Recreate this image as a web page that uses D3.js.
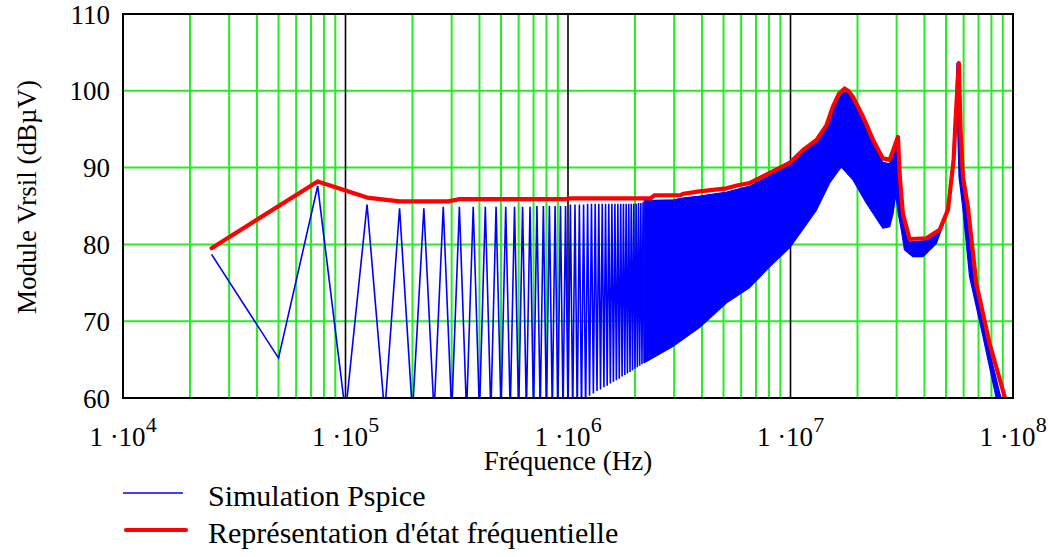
<!DOCTYPE html>
<html><head><meta charset="utf-8">
<script src="https://cdn.jsdelivr.net/npm/d3@7"></script>
<style>
body{margin:0;background:#fff;}
text{font-family:"Liberation Serif","Times New Roman",serif;fill:#000;}
</style>
</head><body>
<svg id="chart" width="1048" height="557"></svg>
<script>
// ---- data ----
// Pspice harmonics, discrete lines (kHz, dBuV)
const harmonicFreqKHz = [25,50,75,100,125,150,175,200,225,250,
  275,300,325,350,375,400,425,450,475,500,
  525,550,575,600,625,650,675,700,725,750,
  775,800,825,850,875,900,925,950,975,1000,
  1025,1050,1075,1100,1125,1150,1175,1200,1225,1250,
  1275,1300,1325,1350,1375,1400,1425,1450,1475,1500,
  1525,1550,1575,1600,1625,1650,1675,1700,1725,1750,
  1775,1800,1825,1850,1875,1900,1925,1950,1975,2000,
  2025,2050,2075,2100,2125,2150,2175,2200];
const harmonicDb = [78.7,65.2,87.6,58,85.2,58,84.7,58,84.7,58,
  84.9,58,84.9,58,84.9,58,84.9,58,84.9,58,
  84.9,58,84.9,58,84.9,58,84.9,58,85.0,58,
  85.0,58,85.0,58,85.0,58,85.0,58,85.0,58,
  85.2,58,85.2,58,85.2,58,85.2,58,85.3,60.3,
  85.3,60.6,85.3,60.9,85.3,61.1,85.3,61.4,85.3,61.6,
  85.3,61.9,85.3,62.1,85.3,62.3,85.3,62.5,85.3,62.8,
  85.3,63.0,85.3,63.2,85.3,63.4,85.3,63.6,85.3,63.8,
  85.3,64.0,85.4,64.2,85.4,64.4,85.5,64.6];
// Dense Pspice band, upper envelope (Hz, dBuV)
const bandUpperFreq = [2.2e6,3.0e6,3.2e6,3.91e6,5.16e6,6.56e6,9.9e6,1.14e7,1.31e7,1.45e7,1.55e7,1.72e7,1.8e7,1.91e7,2.12e7,2.35e7,2.6e7,2.79e7,2.95e7,3.0e7,3.07e7,3.15e7,3.4e7,4.08e7,4.68e7,5.05e7,5.35e7,5.5e7,5.6e7,5.7e7,5.8e7,5.9e7,6.2e7,6.75e7,7.75e7,9.0e7];
const bandUpperDb = [85.7,85.8,86.0,86.3,86.8,87.6,90.3,92.0,93.3,95.2,97.6,99.8,99.8,98.7,96.1,93.1,90.7,90.5,93.0,93.5,88.5,84.0,80.3,80.5,81.5,84.2,91.0,97.0,103.6,98.0,92.0,88.0,84.5,74.5,66.7,59.0];
// Dense Pspice band, lower envelope (Hz, dBuV)
const bandLowerFreq = [2.2e6,2.96e6,3.91e6,5.16e6,6.56e6,8.07e6,1e7,1.31e7,1.5e7,1.69e7,1.91e7,2.19e7,2.6e7,2.79e7,2.89e7,2.97e7,3.05e7,3.15e7,3.25e7,3.55e7,3.94e7,4.52e7,5.01e7,5.28e7,5.47e7,5.55e7,5.63e7,5.72e7,5.94e7,6.38e7,7.33e7,8.55e7];
const bandLowerDb = [64.6,66.7,69.2,72.4,74.4,77.1,79.7,84.5,88.0,90.1,88.4,85.4,82.1,82.3,84.0,86.5,84.0,81.9,79.3,78.4,78.4,80.1,83.6,88.0,94.5,98.0,96.0,88.8,84.9,75.8,68.0,59.0];
// State representation (Hz, dBuV)
const stateFreq = [2.5e4,7.5e4,1.25e5,1.75e5,2.9e5,3.25e5,9.75e5,1.03e6,2.35e6,2.45e6,3.2e6,3.3e6,3.9e6,5.16e6,5.8e6,6.56e6,9.9e6,1.14e7,1.31e7,1.45e7,1.55e7,1.65e7,1.75e7,1.83e7,1.91e7,2.12e7,2.35e7,2.6e7,2.79e7,3.04e7,3.1e7,3.2e7,3.43e7,4.08e7,4.68e7,5.1e7,5.41e7,5.52e7,5.71e7,5.81e7,5.96e7,6.27e7,6.84e7,7.85e7,9.17e7];
const stateDb = [79.5,88.2,86.1,85.6,85.6,85.9,85.9,86.0,86.0,86.4,86.4,86.6,86.9,87.3,87.7,88.0,90.6,92.3,93.6,95.5,97.9,99.6,100.3,99.9,99.2,96.6,93.6,91.2,91.0,94.0,88.8,84.0,80.7,80.8,81.9,84.5,91.0,96.2,103.6,94.9,88.8,84.9,74.9,67.1,60.2];
// axes
const yTickValues = [60,70,80,90,100,110];
const xDecades = [1e4,1e5,1e6,1e7,1e8];
const xDecadeExp = ["4","5","6","7","8"];
const legendLabels = ["Simulation Pspice","Représentation d'état fréquentielle"];

// ---- drawing ----
const svg = d3.select("#chart");
svg.append("rect").attr("width",1048).attr("height",557).attr("fill","#fff");
const L=123, R=1013, T=14, B=398;
const x = d3.scaleLog().domain([1e4,1e8]).range([L,R]);
const y = d3.scaleLinear().domain([60,110]).range([B,T]);
const green = "#22ee22";

svg.append("defs").append("clipPath").attr("id","clip")
  .append("rect").attr("x",L).attr("y",T).attr("width",R-L).attr("height",B-T);

const grid = svg.append("g");
grid.selectAll("line.vminor").data(x.ticks().filter(v=>!xDecades.includes(v)))
  .enter().append("line").attr("x1",d=>x(d)).attr("x2",d=>x(d)).attr("y1",T).attr("y2",B)
  .attr("stroke",green).attr("stroke-width",2);
grid.selectAll("line.h").data(yTickValues.slice(1,-1))
  .enter().append("line").attr("x1",L).attr("x2",R).attr("y1",d=>y(d)).attr("y2",d=>y(d))
  .attr("stroke",green).attr("stroke-width",2);
grid.selectAll("line.vmaj").data(xDecades.slice(1,-1))
  .enter().append("line").attr("x1",d=>x(d)).attr("x2",d=>x(d)).attr("y1",T).attr("y2",B)
  .attr("stroke","#000").attr("stroke-width",1.6);

const plot = svg.append("g").attr("clip-path","url(#clip)");
const poly = d3.line().x(d=>x(d[0])).y(d=>y(d[1]));
// dense band
const upperPts = bandUpperFreq.map((f,i)=>[f,bandUpperDb[i]]);
const lowerPts = bandLowerFreq.map((f,i)=>[f,bandLowerDb[i]]).reverse();
plot.append("path").attr("d", poly(upperPts.concat(lowerPts))+"Z")
  .attr("fill","#0000ff").attr("stroke","#0000ff").attr("stroke-width",1.2).attr("stroke-linejoin","round");
// discrete harmonic zigzag
const harm = harmonicFreqKHz.map((f,i)=>[f*1e3,harmonicDb[i]]);
plot.append("path").attr("d",poly(harm)).attr("fill","none")
  .attr("stroke","#0000ff").attr("stroke-width",1.6).attr("stroke-linejoin","miter");
// state representation
const st = stateFreq.map((f,i)=>[f,stateDb[i]]);
plot.append("path").attr("d",poly(st)).attr("fill","none")
  .attr("stroke","#ff0000").attr("stroke-width",4.2).attr("stroke-linejoin","round").attr("stroke-linecap","round");

// frame
svg.append("rect").attr("x",L).attr("y",T).attr("width",R-L).attr("height",B-T)
  .attr("fill","none").attr("stroke","#000").attr("stroke-width",2);

// y tick labels
svg.selectAll("text.yt").data(yTickValues).enter().append("text")
  .attr("x",110).attr("y",d=>y(d)+9.5).attr("text-anchor","end")
  .style("font-size","27px").text(d=>d);
// x tick labels
xDecades.forEach((d,i)=>{
  const t = svg.append("text").attr("x",x(d)).attr("y",446).attr("text-anchor","middle").style("font-size","27px");
  t.append("tspan").text("1 \u00B710");
  t.append("tspan").attr("dy",-14).style("font-size","22px").text(xDecadeExp[i]);
});
// axis titles
svg.append("text").attr("x",568).attr("y",470).attr("text-anchor","middle").style("font-size","27px").text("Fréquence (Hz)");
svg.append("text").attr("transform","translate(36,197) rotate(-90)").attr("text-anchor","middle")
  .style("font-size","27px").text("Module Vrsil (dBµV)");

// legend
svg.append("line").attr("x1",123).attr("x2",183).attr("y1",493).attr("y2",493).attr("stroke","#0000ff").attr("stroke-width",1.7);
svg.append("line").attr("x1",126).attr("x2",186).attr("y1",530).attr("y2",530).attr("stroke","#ff0000").attr("stroke-width",4.2).attr("stroke-linecap","round");
svg.append("text").attr("x",208).attr("y",506).style("font-size","30px").text(legendLabels[0]);
svg.append("text").attr("x",208).attr("y",543).style("font-size","30px").text(legendLabels[1]);
</script>
</body></html>
